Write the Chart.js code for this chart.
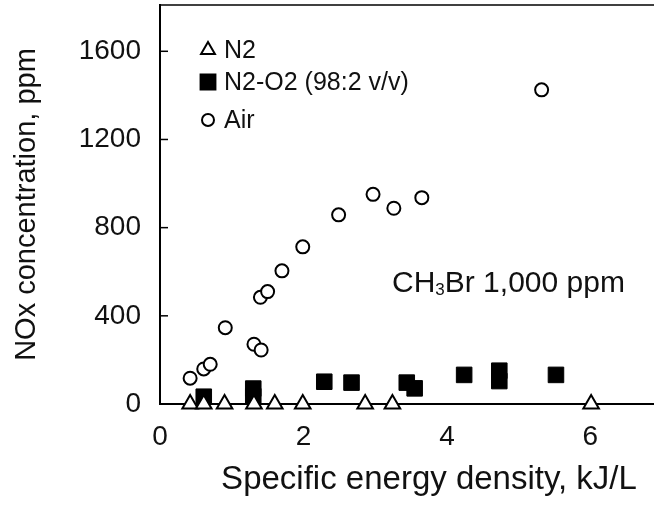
<!doctype html>
<html>
	<head>
		<title>NOx vs specific energy density</title>
		<meta charset="utf-8">
		<script src="https://cdn.jsdelivr.net/npm/chart.js@4.4.0/dist/chart.umd.min.js"></script>
		<style>
			html, body { margin: 0; padding: 0; background: #fff; overflow: hidden; }
			/* point overflow forces ~12px padding on top, so shift the canvas up a bit */
			#canvas { display: block; margin-top: -7px; }
		</style>
	</head>
	<body>
		<canvas id="canvas" width="710" height="526"></canvas>

<script>
// N2 (triangles)
var n2X = [0.42, 0.61, 0.90, 1.31, 1.60, 1.99, 2.86, 3.24, 6.01];
var n2Y = [0, 0, 0, 0, 0, 0, 0, 0, 0];
// N2-O2 98:2 (filled squares)
var mixX = [0.61, 1.30, 1.30, 2.29, 2.67, 3.44, 3.55, 4.24, 4.73, 4.73, 5.52];
var mixY = [33, 35, 70, 101, 97, 97, 71, 132, 104, 151, 132];
// Air (open circles)
var airX = [0.42, 0.61, 0.70, 0.91, 1.31, 1.41, 1.40, 1.50, 1.70, 1.99, 2.49, 2.97, 3.26, 3.65, 5.32];
var airY = [117, 159, 180, 346, 271, 245, 484, 510, 604, 713, 858, 951, 888, 936, 1425];

var xTicks = [0, 2, 4, 6];
var yTicks = [0, 400, 800, 1200, 1600];
var seriesNames = ['N2', 'N2-O2 (98:2 v/v)', 'Air'];

var FONT = "'Liberation Sans', Arial, sans-serif";
var SHIFT = 7;

function pts(xs, ys) {
	var out = [];
	for (var i = 0; i < xs.length; i++) out.push({x: xs[i], y: ys[i]});
	return out;
}

// frame top line, inward y ticks, legend and note
var extras = {
	id: 'extras',
	afterDraw: function(chart) {
		var ctx = chart.ctx;
		var a = chart.chartArea;
		var ys = chart.scales.y;
		ctx.save();
		ctx.strokeStyle = '#000';
		ctx.lineWidth = 1.5;
		ctx.beginPath();
		ctx.moveTo(a.left, a.top);
		ctx.lineTo(a.right, a.top);
		ctx.stroke();
		yTicks.forEach(function(v) {
			if (v === 0) return;
			var py = ys.getPixelForValue(v);
			ctx.beginPath();
			ctx.moveTo(a.left, py);
			ctx.lineTo(a.left + 8, py);
			ctx.stroke();
		});

		// legend
		var rows = [
			{style: 'triangle', r: 8, fill: '#fff', y: 50},
			{style: 'rect', r: 10.5, fill: '#000', y: 82},
			{style: 'circle', r: 6, fill: '#fff', y: 120}
		];
		ctx.font = '25px ' + FONT;
		ctx.textBaseline = 'middle';
		ctx.textAlign = 'left';
		rows.forEach(function(r, i) {
			ctx.fillStyle = r.fill;
			ctx.strokeStyle = '#000';
			ctx.lineWidth = 2;
			Chart.helpers.drawPoint(ctx, {pointStyle: r.style, radius: r.r, rotation: 0, borderWidth: 2}, 208, r.y + SHIFT);
			ctx.fillStyle = '#111';
			ctx.fillText(seriesNames[i], 224, r.y + SHIFT + 1);
		});

		// CH3Br note
		ctx.textBaseline = 'alphabetic';
		ctx.fillStyle = '#111';
		var x = 392, base = 292 + SHIFT;
		ctx.font = '30px ' + FONT;
		ctx.fillText('CH', x, base);
		x += ctx.measureText('CH').width;
		ctx.font = '17px ' + FONT;
		ctx.fillText('3', x, base + 3);
		x += ctx.measureText('3').width;
		ctx.font = '30px ' + FONT;
		ctx.fillText('Br 1,000 ppm', x, base);
		ctx.restore();
	}
};

new Chart(document.getElementById('canvas'), {
	type: 'scatter',
	data: {
		datasets: [{
			label: seriesNames[0],
			data: pts(n2X, n2Y),
			pointStyle: 'triangle',
			pointRadius: 9,
			pointBorderWidth: 2,
			pointBackgroundColor: '#fff',
			pointBorderColor: '#000',
			clip: false
		}, {
			label: seriesNames[1],
			data: pts(mixX, mixY),
			pointStyle: 'rect',
			pointRadius: 11,
			pointBorderWidth: 1,
			pointBackgroundColor: '#000',
			pointBorderColor: '#000',
			clip: false
		}, {
			label: seriesNames[2],
			data: pts(airX, airY),
			pointStyle: 'circle',
			pointRadius: 6.5,
			pointBorderWidth: 2,
			pointBackgroundColor: '#fff',
			pointBorderColor: '#000',
			clip: false
		}]
	},
	options: {
		responsive: false,
		animation: false,
		devicePixelRatio: 1,
		layout: { padding: 0 },
		plugins: {
			legend: { display: false },
			tooltip: { enabled: false }
		},
		scales: {
			x: {
				type: 'linear',
				min: 0,
				max: 7.5,
				afterBuildTicks: function(s) { s.ticks = xTicks.map(function(v) { return {value: v}; }); },
				afterFit: function(s) { s.height = 115; s.paddingLeft = 0; s.paddingRight = 0; },
				grid: { display: true, drawOnChartArea: false, drawTicks: false },
				border: { display: true, color: '#000', width: 2 },
				ticks: {
					padding: 16, color: '#111', font: { family: FONT, size: 28 },
					callback: function(v) { return String(v); }
				},
				title: {
					display: true,
					text: 'Specific energy density, kJ/L',
					color: '#111',
					font: { family: FONT, size: 33 },
					padding: { top: 0, bottom: 19 }
				}
			},
			y: {
				type: 'linear',
				min: 0,
				max: 1810,
				afterBuildTicks: function(s) { s.ticks = yTicks.map(function(v) { return {value: v}; }); },
				afterFit: function(s) { s.width = 160; s.paddingTop = 0; s.paddingBottom = 0; },
				grid: { display: true, drawOnChartArea: false, drawTicks: false },
				border: { display: true, color: '#000', width: 2 },
				ticks: {
					padding: 19, color: '#111', font: { family: FONT, size: 28 },
					callback: function(v) { return String(v); }
				},
				title: {
					display: true,
					text: 'NOx concentration, ppm',
					color: '#111',
					font: { family: FONT, size: 29 },
					padding: { top: 10, bottom: 0 }
				}
			}
		}
	},
	plugins: [extras]
});
</script>
	</body>
</html>
